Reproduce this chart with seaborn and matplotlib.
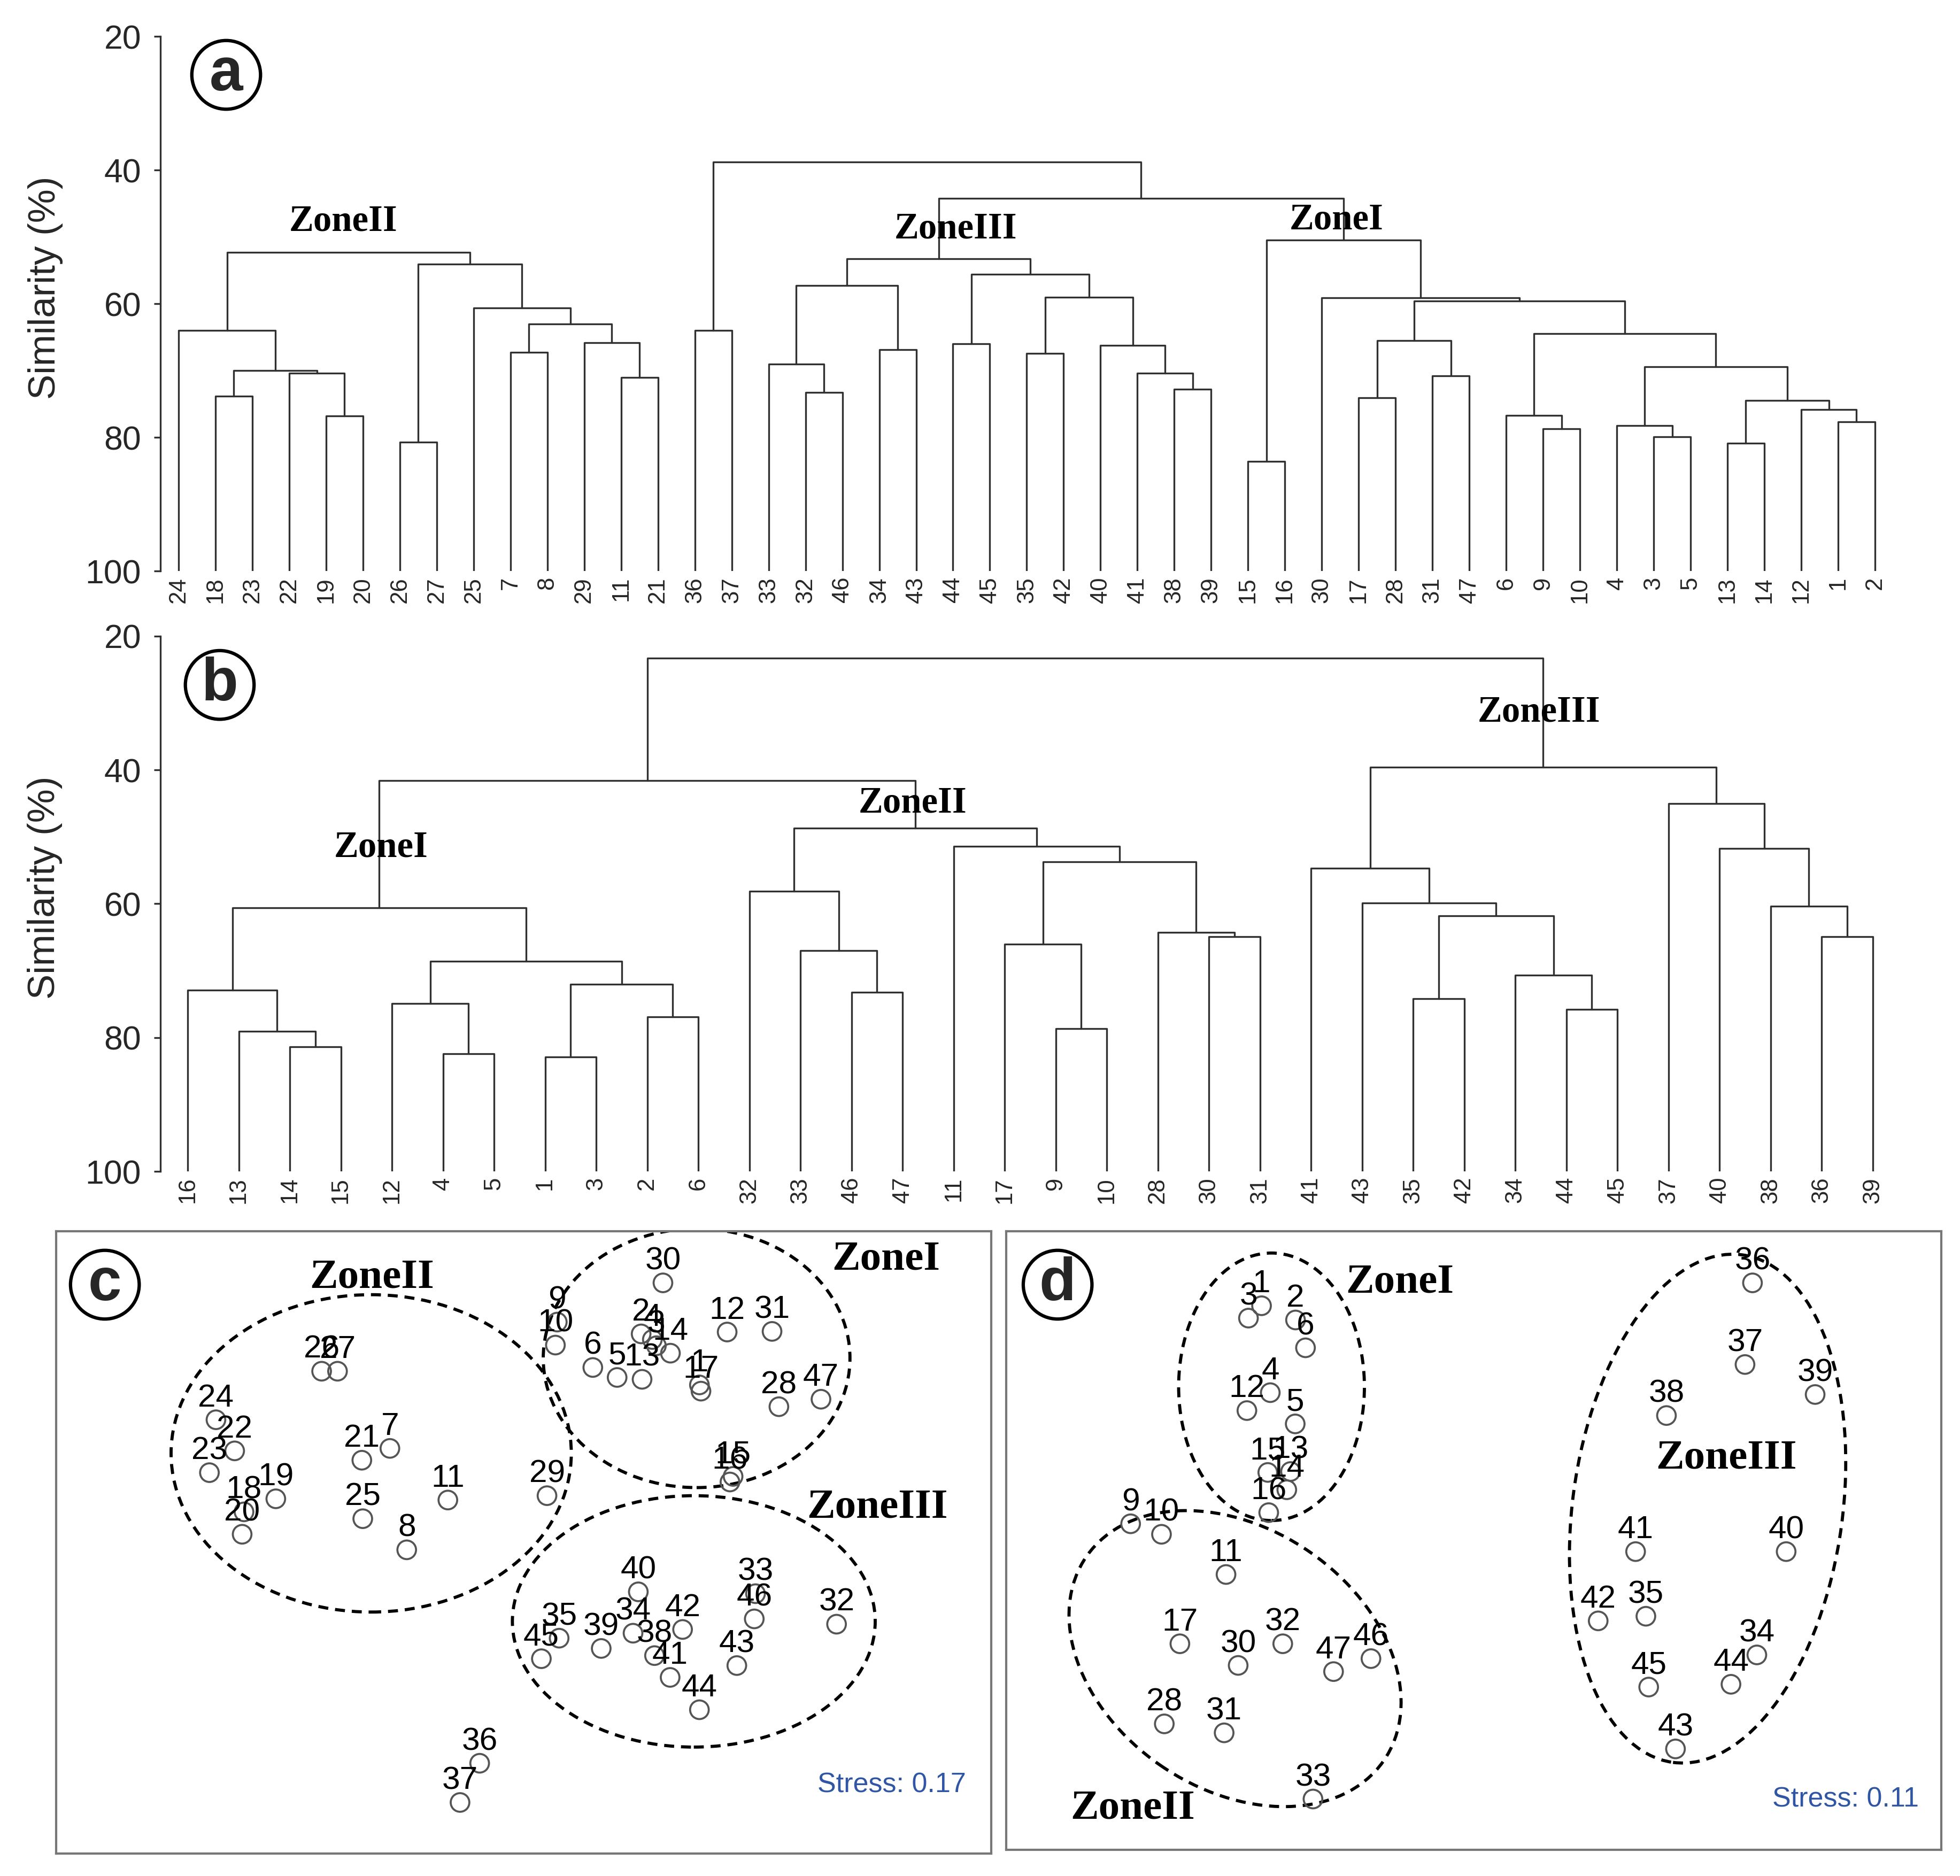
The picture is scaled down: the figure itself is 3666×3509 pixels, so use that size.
import numpy as np
import pandas as pd
import matplotlib
matplotlib.use("Agg")
import matplotlib.pyplot as plt
from matplotlib.patches import Ellipse
import seaborn as sns

# ---------------- dendrogram (a): leaf order + merges (height, left, right) ----------------
leaves_a = [24, 18, 23, 22, 19, 20, 26, 27, 25, 7, 8, 29, 11, 21,
            36, 37, 33, 32, 46, 34, 43, 44, 45, 35, 42, 40, 41, 38, 39,
            15, 16, 30, 17, 28, 31, 47, 6, 9, 10, 4, 3, 5, 13, 14, 12, 1, 2]

zone2_a = (52.3, (64.0, 24, (70.0, (73.8, 18, 23), (70.4, 22, (76.8, 19, 20)))),
           (54.1, (80.7, 26, 27), (60.6, 25, (63.0, (67.3, 7, 8), (65.8, 29, (71.0, 11, 21))))))
zone3_a = (53.3, (57.3, (69.0, 33, (73.3, 32, 46)), (66.9, 34, 43)),
           (55.6, (66.0, 44, 45), (59.0, (67.4, 35, 42), (66.2, 40, (70.4, 41, (72.8, 38, 39))))))
zone1_a = (50.5, (83.6, 15, 16),
           (59.1, 30, (59.6, (65.5, (74.1, 17, 28), (70.8, 31, 47)),
                       (64.5, (76.7, 6, (78.7, 9, 10)),
                        (69.4, (78.2, 4, (79.9, 3, 5)),
                         (74.5, (80.9, 13, 14), (75.8, 12, (77.7, 1, 2))))))))
rest_a = (38.8, (64.0, 36, 37), (44.2, zone3_a, zone1_a))
trees_a = [zone2_a, rest_a]

zones_a = ["ZoneII", "ZoneIII", "ZoneI"]
zones_a_x = [4.47, 21.08, 31.4]
zones_a_y = [47.7, 48.8, 47.5]

# ---------------- dendrogram (b) ----------------
leaves_b = [16, 13, 14, 15, 12, 4, 5, 1, 3, 2, 6, 32, 33, 46, 47, 11, 17, 9, 10, 28, 30, 31,
            41, 43, 35, 42, 34, 44, 45, 37, 40, 38, 36, 39]

zone1_b = (60.6, (72.9, 16, (79.1, 13, (81.4, 14, 15))),
           (68.6, (74.9, 12, (82.4, 4, 5)), (72.0, (82.9, 1, 3), (76.9, 2, 6))))
zone2_b = (48.7, (58.1, 32, (67.0, 33, (73.2, 46, 47))),
           (51.4, 11, (53.7, (66.0, 17, (78.7, 9, 10)), (64.3, 28, (64.9, 30, 31)))))
zone3_b = (39.6, (54.7, 41, (59.9, 43, (61.8, (74.2, 35, 42), (70.7, 34, (75.8, 44, 45))))),
           (45.0, 37, (51.7, 40, (60.4, 38, (64.9, 36, 39)))))
root_b = (23.3, (41.6, zone1_b, zone2_b), zone3_b)
trees_b = [root_b]

zones_b = ["ZoneI", "ZoneII", "ZoneIII"]
zones_b_x = [3.79, 14.2, 26.46]
zones_b_y = [51.6, 45.0, 31.4]

# ---------------- NMDS (c) ----------------
labels_c = list(range(1, 48))
x_c = [0.564, 0.377, 0.426, 0.413, 0.300, 0.222, -0.429, -0.375, 0.108, 0.102,
       -0.243, 0.653, 0.380, 0.471, 0.672, 0.662, 0.569, -0.897, -0.795, -0.903,
       -0.519, -0.927, -1.008, -0.987, -0.516, -0.648, -0.597, 0.819, 0.075, 0.447,
       0.797, 1.004, 0.744, 0.351, 0.114, -0.141, -0.204, 0.420, 0.249, 0.368,
       0.470, 0.510, 0.684, 0.564, 0.057, 0.740, 0.954]
y_c = [0.506, 0.670, 0.632, 0.652, 0.530, 0.562, 0.302, -0.024, 0.708, 0.634,
       0.136, 0.676, 0.524, 0.608, 0.212, 0.194, 0.486, 0.098, 0.140, 0.026,
       0.264, 0.294, 0.224, 0.394, 0.076, 0.550, 0.550, 0.436, 0.150, 0.834,
       0.678, -0.263, -0.165, -0.292, -0.308, -0.710, -0.836, -0.364, -0.341, -0.159,
       -0.434, -0.280, -0.396, -0.538, -0.374, -0.246, 0.460]

ell_c_x = [-0.489, 0.555, 0.546]
ell_c_y = [0.286, 0.592, -0.254]
ell_c_w = [1.284, 0.984, 1.164]
ell_c_h = [1.020, 0.832, 0.808]
ell_c_ang = [0, 0, 0]

zones_c = ["ZoneII", "ZoneI", "ZoneIII"]
zones_c_x = [-0.486, 1.163, 1.135]
zones_c_y = [0.851, 0.908, 0.112]
stress_c = "Stress: 0.17"

# ---------------- NMDS (d) ----------------
labels_d = [1, 2, 3, 4, 5, 6, 9, 10, 11, 12, 13, 14, 15, 16, 17, 28, 30, 31, 32, 33,
            34, 35, 36, 37, 38, 39, 40, 41, 42, 43, 44, 45, 46, 47]
x_d = [-0.681, -0.572, -0.723, -0.653, -0.573, -0.540, -1.101, -1.002, -0.795, -0.728,
       -0.588, -0.600, -0.661, -0.658, -0.943, -0.993, -0.756, -0.801, -0.613, -0.516,
       0.908, 0.552, 0.894, 0.870, 0.618, 1.095, 1.002, 0.519, 0.399, 0.647,
       0.825, 0.561, -0.330, -0.450]
y_d = [0.759, 0.713, 0.719, 0.478, 0.377, 0.623, 0.054, 0.020, -0.110, 0.420,
       0.223, 0.164, 0.220, 0.090, -0.334, -0.593, -0.404, -0.622, -0.334, -0.836,
       -0.370, -0.245, 0.833, 0.569, 0.404, 0.472, -0.036, -0.036, -0.260, -0.674,
       -0.465, -0.474, -0.382, -0.424]

ell_d_x = [-0.649, -0.766, 0.750]
ell_d_y = [0.497, -0.382, 0.103]
ell_d_w = [0.596, 1.160, 0.866]
ell_d_h = [0.865, 0.840, 1.656]
ell_d_ang = [0, -35, -7.7]

zones_d = ["ZoneI", "ZoneIII", "ZoneII"]
zones_d_x = [-0.237, 0.810, -1.095]
zones_d_y = [0.834, 0.265, -0.867]
stress_d = "Stress: 0.11"

# ---------------------------------------------------------------------------
sns.set_theme(style="white")
plt.rcParams["font.family"] = ["Liberation Sans", "DejaVu Sans"]

LINE = "#303030"
ZONE_FONT = dict(family="Liberation Serif", weight="bold", color="black")


def draw_tree(ax, node, pos):
    # returns x position and height of the node, drawing the links below it
    if not isinstance(node, tuple):
        return pos[node], 100.0
    h, left, right = node
    xl, yl = draw_tree(ax, left, pos)
    xr, yr = draw_tree(ax, right, pos)
    ax.plot([xl, xl, xr, xr], [yl, h, h, yr], color=LINE, lw=0.8)
    return (xl + xr) / 2, h


def dendro_panel(ax, leaves, trees, zones, zx, zy, xmin):
    pos = {leaf: i for i, leaf in enumerate(leaves)}
    for t in trees:
        draw_tree(ax, t, pos)
    ax.set_xlim(xmin, len(leaves) - 0.5)
    ax.set_ylim(100, 20)
    ax.set_yticks([20, 40, 60, 80, 100])
    ax.set_xticks(range(len(leaves)))
    ax.set_xticklabels([str(l) for l in leaves], rotation=90, fontsize=10.5)
    ax.tick_params(axis="x", length=0, pad=2.6)
    ax.tick_params(axis="y", left=True, length=3, width=0.8, color=LINE, pad=5.5, labelsize=15)
    sns.despine(ax=ax, bottom=True)
    ax.spines["left"].set_color(LINE)
    ax.spines["left"].set_linewidth(0.8)
    ax.set_ylabel("Similarity (%)", fontsize=17)
    ax.yaxis.set_label_coords(-0.056, 0.53)
    for name, x, y in zip(zones, zx, zy):
        ax.text(x, y, name, ha="center", va="center", fontsize=16.5, **ZONE_FONT)


def nmds_panel(ax, labels, xs, ys, ex, ey, ew, eh, ea, zones, zx, zy, stress, sx, sy):
    df = pd.DataFrame({"x": xs, "y": ys, "lab": labels})
    for cx, cy, w, h, a in zip(ex, ey, ew, eh, ea):
        ax.add_patch(Ellipse((cx, cy), w, h, angle=a, fill=False, ec="black",
                             lw=1.4, ls=(0, (3.2, 2.2))))
    sns.scatterplot(data=df, x="x", y="y", ax=ax, s=70, marker="o",
                    facecolor="none", edgecolor="#555555", linewidth=0.9,
                    legend=False, zorder=3)
    for _, r in df.iterrows():
        ax.annotate(str(int(r["lab"])), (r["x"], r["y"]), xytext=(0, 6),
                    textcoords="offset points", ha="center", va="baseline",
                    fontsize=14.5, color="black", zorder=4)
    for name, x, y in zip(zones, zx, zy):
        ax.text(x, y, name, ha="center", va="center", fontsize=19, **ZONE_FONT)
    ax.text(sx, sy, stress, ha="right", va="center", fontsize=12.5, color="#2F55A4")
    ax.set_xlim(-1.5, 1.5)
    ax.set_ylim(-1, 1)
    ax.set_xticks([])
    ax.set_yticks([])
    ax.set_xlabel("")
    ax.set_ylabel("")
    for sp in ax.spines.values():
        sp.set_color("#777777")
        sp.set_linewidth(1.0)


fig = plt.figure(figsize=(3666 / 300, 3509 / 300), dpi=300)
axa = fig.add_axes([0.0817, 0.6956, 0.8843, 0.2850])
axb = fig.add_axes([0.0817, 0.3756, 0.8868, 0.2853])
axc = fig.add_axes([0.0286, 0.0120, 0.4771, 0.3317])
axd = fig.add_axes([0.5134, 0.0140, 0.4771, 0.3297])

dendro_panel(axa, leaves_a, trees_a, zones_a, zones_a_x, zones_a_y, -0.5)
dendro_panel(axb, leaves_b, trees_b, zones_b, zones_b_x, zones_b_y, -0.54)
nmds_panel(axc, labels_c, x_c, y_c, ell_c_x, ell_c_y, ell_c_w, ell_c_h, ell_c_ang,
           zones_c, zones_c_x, zones_c_y, stress_c, 1.42, -0.78)
nmds_panel(axd, labels_d, x_d, y_d, ell_d_x, ell_d_y, ell_d_w, ell_d_h, ell_d_ang,
           zones_d, zones_d_x, zones_d_y, stress_d, 1.428, -0.838)

# circled panel letters
for letter, fx, fy in [("a", 0.1154, 0.9601), ("b", 0.1121, 0.6349),
                       ("c", 0.0535, 0.3152), ("d", 0.5396, 0.3152)]:
    fig.text(fx, fy, letter, ha="center", va="center", fontsize=27, fontweight="bold",
             bbox=dict(boxstyle="circle,pad=0.1", fc="white", ec="black", lw=1.5))

fig.savefig("out.png", dpi=300)
